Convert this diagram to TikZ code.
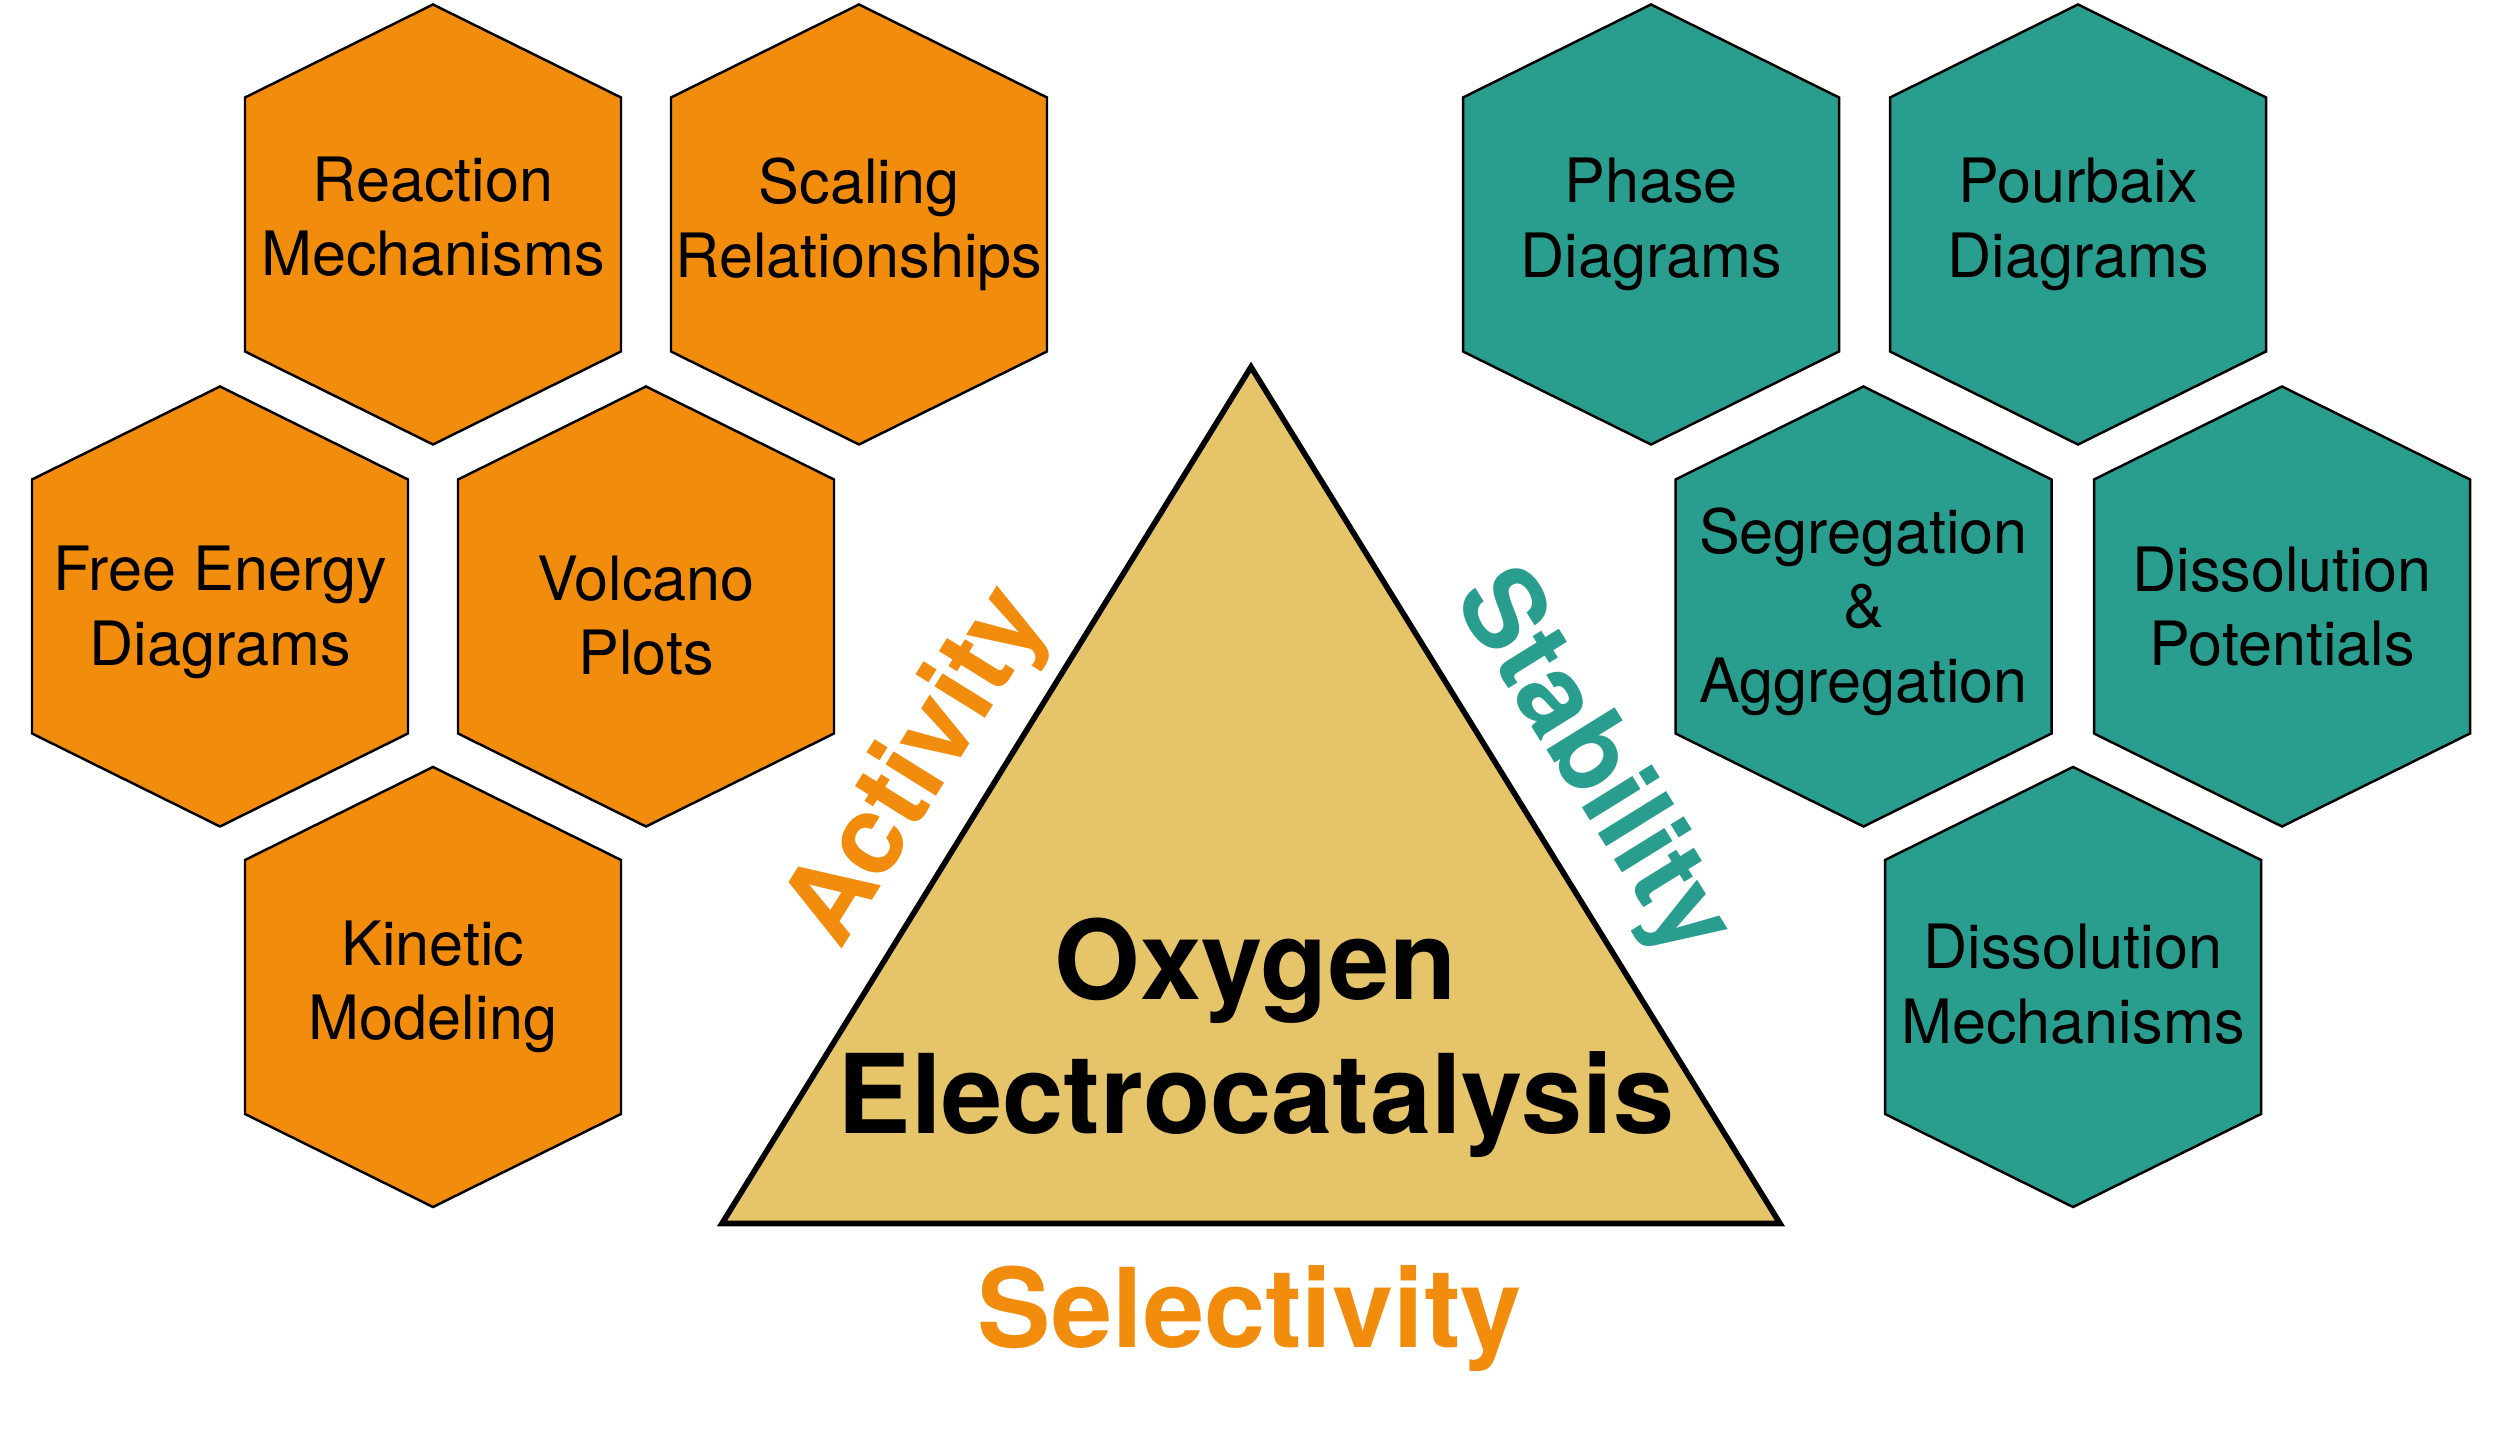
\documentclass[tikz,border=0pt]{standalone}
\usepackage{fontspec}
\setmainfont{TeX Gyre Heros}
\definecolor{actorange}{HTML}{F28C0C}
\definecolor{stabteal}{HTML}{2A9E8E}
\definecolor{trisand}{HTML}{E6C46A}
\tikzset{
    hexline/.style={draw=black, line width=0.7pt, line join=miter},
    hextext/.style={font=\fontsize{17.4}{21.2}\selectfont, align=center, inner sep=0pt},
    tribox/.style={draw=black, fill=trisand, line width=1.6pt, line join=miter},
    bigtext/.style={font=\bfseries\fontsize{31.3}{38.1}\selectfont, align=center, inner sep=0pt},
}
% hexagon cell: [text shift], position, fill, name, text
\newcommand{\hexcell}[5][0cm]{%
    \draw[hexline, fill=#3] (#2) ++(0,2.2) -- ++(1.88,-0.93) -- ++(0,-2.54)
        -- ++(-1.88,-0.93) -- ++(-1.88,0.93) -- ++(0,2.54) -- cycle;
    \node[hextext, yshift=#1] (#4) at (#2) {#5};
}
\begin{document}
\begin{tikzpicture}
        \fill[white] (0,0) rectangle (25,14.46);

        % Activity cells
        \hexcell[0.08cm]{4.33,12.215}{actorange}{mech}{Reaction\\Mechanisms}
        \hexcell{8.59,12.215}{actorange}{scaling}{Scaling\\Relationships}
        \hexcell[-0.06cm]{2.20,8.395}{actorange}{energy}{Free Energy\\Diagrams}
        \hexcell[-0.09cm]{6.46,8.395}{actorange}{volcano}{Volcano\\Plots}
        \hexcell{4.33,4.59}{actorange}{kinetic}{Kinetic\\Modeling}

        % Stability cells
        \hexcell{16.51,12.215}{stabteal}{phase}{Phase\\Diagrams}
        \hexcell{20.78,12.215}{stabteal}{pourbaix}{Pourbaix\\Diagrams}
        \hexcell[-0.05cm]{18.635,8.395}{stabteal}{segreg}{Segregation\\\&\\Aggregation}
        \hexcell{22.82,8.395}{stabteal}{dispot}{Dissolution\\Potentials}
        \hexcell[0.03cm]{20.73,4.59}{stabteal}{dismech}{Dissolution\\Mechanisms}

        % Triangle
        \coordinate (apex) at (12.51,10.79);
        \coordinate (baseL) at (7.22,2.225);
        \coordinate (baseR) at (17.80,2.225);
        \draw[tribox] (apex) -- (baseL) -- (baseR) -- cycle;
        \node[bigtext] (oxygen) at (12.56,4.08) {Oxygen\\Electrocatalysis};

        % Side labels
        \node[bigtext, text=actorange, rotate=58.1] (activity) at (9.20,6.78) {Activity};
        \node[bigtext, text=stabteal, rotate=-58.2] (stability) at (15.90,6.81) {Stability};
        \node[bigtext, text=actorange, anchor=base] (selectivity) at (12.50,0.99) {Selectivity};

    \end{tikzpicture}
\end{document}
